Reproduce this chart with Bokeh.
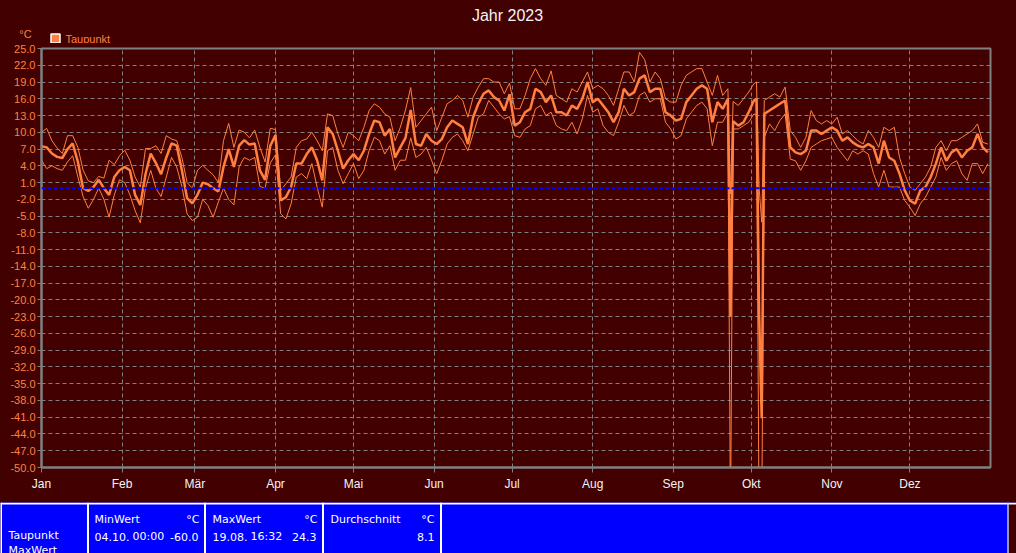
from bokeh.plotting import figure
from bokeh.models import (Range1d, FixedTicker, PrintfTickFormatter, Span, Label, BoxAnnotation)
from bokeh.layouts import column
from bokeh.embed import file_html
from bokeh.resources import INLINE

# ---------------- data ----------------
TITLE = "Jahr 2023"
SERIES = "Taupunkt"
UNIT = "°C"
MONTH_LABELS = ["Jan", "Feb", "Mär", "Apr", "Mai", "Jun", "Jul", "Aug", "Sep", "Okt", "Nov", "Dez"]
MONTH_START_DAYS = [0, 31, 59, 90, 120, 151, 181, 212, 243, 273, 304, 334]
Y_TICKS = list(range(-50, 26, 3))

DAYS = (list(range(0, 265, 2)) + [265] + list(range(266, 275, 2)) + [275, 276, 277]
        + list(range(278, 365, 2)))

DEW_AVG = [
    7.5, 7.3, 6.2, 5.6, 5.4, 7.0, 8.0, 4.7, 0.0, -0.5, 0.2, 1.5, 0.0, -1.2, 2.0, 3.2, 3.8, 3.2, -1.2, -3.0,
    2.5, 6.2, 4.5, 2.5, 5.5, 8.0, 7.6, 3.2, -1.8, -2.7, -1.2, 1.0, 0.7, 0.0, -0.6, 3.8, 7.0, 3.8, 7.6, 8.6,
    7.8, 8.0, 3.2, 1.5, 7.6, 9.5, -2.2, -1.6, 0.2, 4.4, 4.4, 6.1, 7.3, 5.0, 1.4, 10.9, 9.7, 6.7, 3.5, 5.0,
    6.1, 5.0, 6.7, 9.7, 12.1, 11.8, 9.4, 10.6, 5.5, 7.3, 9.0, 14.0, 7.9, 7.6, 9.7, 8.5, 7.9, 8.8, 10.9, 12.1,
    11.5, 10.9, 7.9, 12.7, 15.1, 16.9, 17.5, 16.3, 15.7, 13.9, 16.8, 11.2, 11.8, 13.6, 14.2, 17.8, 17.2, 15.4, 16.6, 13.6,
    13.6, 13.0, 14.8, 14.2, 16.0, 19.0, 15.4, 16.0, 14.8, 13.6, 11.8, 13.6, 17.8, 16.6, 17.2, 19.6, 20.2, 17.2, 17.8, 17.8,
    13.6, 13.0, 12.1, 12.4, 15.4, 16.6, 17.8, 18.4, 17.8, 11.8, 15.4, 14.2, 16.0,
    -23.0,
    12.0, 11.2, 11.8, 13.6, 15.7,
    16.0, -22.4, -41.2,
    13.3, 13.9, 14.5, 15.1, 15.7, 7.3, 6.4, 6.1, 6.7, 10.3, 10.3, 9.7, 10.3, 10.9, 10.3, 8.5, 9.1, 8.2, 7.6, 7.3,
    7.9, 7.3, 4.4, 8.5, 5.5, 4.9, 2.6, -0.4, -2.2, -2.8, -0.4, 0.2, 2.0, 4.4, 7.3, 4.9, 6.4, 7.0, 5.5, 6.7,
    7.3, 9.7, 7.3, 6.4,
]
DEW_MAX = [
    10.0, 10.7, 8.5, 7.2, 6.2, 9.4, 9.4, 7.3, 3.2, 1.3, 1.0, 2.1, 1.8, 5.0, 4.2, 5.8, 6.8, 5.0, 2.0, 0.2,
    7.1, 7.1, 7.6, 6.2, 9.4, 8.8, 8.5, 5.5, 1.0, 0.0, 3.2, 4.1, 3.2, 2.4, 1.0, 8.5, 11.6, 7.3, 10.4, 10.0,
    9.0, 10.4, 7.3, 4.7, 10.7, 10.5, -0.4, 0.8, 2.0, 7.3, 8.5, 8.8, 10.0, 8.5, 6.7, 13.3, 13.0, 9.7, 7.3, 10.0,
    9.4, 8.5, 10.9, 13.9, 15.1, 14.5, 13.3, 12.7, 8.5, 10.9, 14.0, 18.0, 10.9, 12.1, 13.3, 14.5, 10.3, 12.7, 15.1, 15.7,
    16.6, 15.7, 12.7, 16.3, 18.1, 19.6, 19.6, 19.0, 19.0, 16.9, 18.8, 14.2, 14.2, 16.6, 19.6, 21.4, 19.6, 18.4, 21.0, 16.6,
    16.0, 15.4, 17.8, 17.2, 19.0, 20.8, 17.8, 18.4, 17.8, 16.6, 14.8, 17.8, 20.8, 20.8, 19.0, 24.3, 23.0, 19.0, 20.8, 19.6,
    16.0, 15.4, 15.4, 18.4, 20.2, 20.8, 21.4, 21.4, 19.0, 16.6, 20.2, 16.6, 17.8,
    -1.0,
    15.5, 14.8, 16.0, 17.2, 18.7,
    19.0, 0.1, -6.1,
    15.7, 16.3, 16.9, 16.3, 18.1, 10.3, 9.1, 7.3, 9.1, 13.9, 12.1, 11.5, 12.1, 11.5, 12.7, 9.7, 10.3, 9.4, 8.5, 7.9,
    10.3, 9.1, 7.3, 10.9, 10.3, 10.9, 5.5, 2.6, 0.2, -0.4, 0.8, 2.0, 3.8, 7.3, 8.5, 6.7, 8.5, 8.5, 9.1, 9.7,
    10.3, 11.5, 8.2, 7.9,
]
DEW_MIN = [
    5.0, 3.5, 4.0, 3.5, 3.2, 4.7, 5.8, 2.0, -1.5, -3.6, -2.0, 0.0, -2.0, -5.2, -1.2, 1.5, 1.0, -1.2, -4.0, -6.2,
    0.0, 3.2, 0.0, -1.5, 2.0, 5.5, 3.8, 0.3, -4.6, -5.8, -5.2, -2.0, -3.1, -5.2, -2.5, 0.0, -2.0, -3.0, 3.8, 5.5,
    5.0, 5.5, 0.3, 0.0, 4.5, 6.0, -4.6, -5.5, -2.8, 2.0, 2.6, 1.7, 4.4, 0.2, -3.4, 6.7, 7.3, 3.2, 0.8, 2.6,
    4.4, 1.7, 3.2, 6.7, 9.1, 8.5, 6.1, 7.6, 3.2, 5.0, 5.0, 9.0, 5.5, 6.1, 7.3, 5.0, 2.6, 5.0, 7.9, 9.1,
    9.7, 8.5, 6.7, 9.7, 12.7, 13.3, 15.7, 14.5, 13.3, 12.4, 12.8, 9.4, 9.1, 10.6, 11.2, 14.2, 14.8, 13.0, 13.6, 11.2,
    10.6, 10.3, 11.8, 9.7, 12.4, 16.6, 13.6, 14.2, 11.2, 10.0, 9.4, 11.8, 14.8, 13.0, 13.6, 16.6, 17.2, 15.4, 16.0, 16.0,
    11.8, 10.6, 8.8, 9.4, 12.4, 13.6, 14.8, 15.4, 14.2, 7.6, 11.8, 11.8, 13.6,
    -60.0,
    10.6, 10.6, 11.2, 11.8, 13.3,
    13.0, -60.0, -60.0,
    9.1, 11.5, 10.3, 12.1, 13.3, 5.2, 4.9, 3.2, 4.9, 7.3, 7.9, 8.5, 8.8, 9.1, 7.3, 6.1, 4.9, 6.7, 6.1, 6.7,
    6.1, 2.6, 0.2, 3.2, 0.2, 0.2, 0.2, -2.2, -3.4, -4.9, -2.8, -1.6, 0.2, 2.0, 5.5, 3.2, 4.4, 4.9, 2.6, 1.4,
    4.4, 4.4, 2.6, 4.4,
]

STAT_MIN_DATE, STAT_MIN_TIME, STAT_MIN = "04.10.", "00:00", -60.0
STAT_MAX_DATE, STAT_MAX_TIME, STAT_MAX = "19.08.", "16:32", 24.3
STAT_AVG = 8.1

# ---------------- style ----------------
BG = "#420000"
ORANGE = "#ff8040"
GRID = "#808080"
BLUE = "#0000ff"
WHITE = "#ffffff"
FONT = "Liberation Sans"
W = 1016


def no_align(fig):
    if "frame_align" in fig.properties():
        fig.frame_align = False


# ---------------- header (title, unit, legend) ----------------
h = figure(width=W, height=43, x_range=Range1d(0, W), y_range=Range1d(43, 0),
           output_backend="svg", toolbar_location=None, x_axis_location=None, y_axis_location=None,
           min_border=0, min_border_left=0, min_border_right=0, min_border_top=0, min_border_bottom=0,
           background_fill_color=BG, border_fill_color=BG, outline_line_color=None)
h.grid.visible = False
no_align(h)
h.add_layout(Label(x=507, y=15, text=TITLE, text_align="center", text_baseline="middle",
                   text_color="#f4f4f4", text_font=FONT, text_font_size="16px"))
h.add_layout(Label(x=25, y=33, text=UNIT, text_align="center", text_baseline="middle",
                   text_color=ORANGE, text_font=FONT, text_font_size="11px"))
# legend entry: swatch + series name
h.add_layout(BoxAnnotation(left=50.5, right=59.5, top=33.5, bottom=42.5, fill_color=ORANGE,
                           fill_alpha=1, line_color=WHITE, line_width=1.5, line_alpha=1))
h.add_layout(Label(x=65, y=38, text=SERIES, text_align="left", text_baseline="middle",
                   text_color=ORANGE, text_font=FONT, text_font_size="11px"))

# ---------------- chart ----------------
p = figure(width=W, height=459, x_range=Range1d(0, 365), y_range=Range1d(-50, 25),
           output_backend="svg", toolbar_location=None,
           min_border_left=41, min_border_right=26, min_border_top=5, min_border_bottom=35,
           background_fill_color=BG, border_fill_color=BG)
no_align(p)
p.outline_line_color = GRID
p.outline_line_width = 2

p.xaxis.ticker = FixedTicker(ticks=MONTH_START_DAYS)
p.xaxis.major_label_overrides = {d: m for d, m in zip(MONTH_START_DAYS, MONTH_LABELS)}
p.xaxis.major_label_text_color = "#f4f4f4"
p.xaxis.major_label_text_font = FONT
p.xaxis.major_label_text_font_size = "12px"
p.xaxis.major_label_standoff = 4
p.xaxis.major_tick_out = 5
p.xaxis.major_tick_in = 0
p.xaxis.minor_tick_out = 0
p.xaxis.axis_line_color = GRID
p.xaxis.axis_line_width = 2
p.xaxis.major_tick_line_color = GRID

p.yaxis.ticker = FixedTicker(ticks=Y_TICKS)
p.yaxis.formatter = PrintfTickFormatter(format="%.1f")
p.yaxis.major_label_text_color = ORANGE
p.yaxis.major_label_text_font = FONT
p.yaxis.major_label_text_font_size = "11px"
p.yaxis.major_label_standoff = 2
p.yaxis.major_tick_out = 4
p.yaxis.major_tick_in = 0
p.yaxis.minor_tick_out = 0
p.yaxis.axis_line_color = GRID
p.yaxis.axis_line_width = 2
p.yaxis.major_tick_line_color = GRID

for g in (p.xgrid, p.ygrid):
    g.grid_line_color = GRID
    g.grid_line_dash = "4 3"
    g.grid_line_width = 1

p.add_layout(Span(location=0, dimension="width", line_color=BLUE, line_dash="4 2", line_width=2))

p.line(DAYS, DEW_MAX, line_color=ORANGE, line_width=1)
p.line(DAYS, DEW_MIN, line_color=ORANGE, line_width=1)
p.line(DAYS, DEW_AVG, line_color=ORANGE, line_width=2.5)

# ---------------- statistics table ----------------
t = figure(width=W, height=51, x_range=Range1d(0, W), y_range=Range1d(553, 502),
           output_backend="svg", toolbar_location=None, x_axis_location=None, y_axis_location=None,
           min_border=0, min_border_left=0, min_border_right=0, min_border_top=0, min_border_bottom=0,
           background_fill_color=BLUE, border_fill_color=BLUE, outline_line_color=None)
no_align(t)
t.grid.visible = False
t.add_layout(BoxAnnotation(left=1008, fill_color=BG, fill_alpha=1, line_alpha=0))
t.add_layout(Span(location=503, dimension="width", line_color=WHITE, line_width=2))
t.add_layout(Span(location=1007.5, dimension="height", line_color="#c8c8c8", line_width=1.5))
for edge in (0.5, 87.5, 204.5, 322.5, 440.5):
    t.add_layout(Span(location=edge, dimension="height", line_color=WHITE, line_width=2))


def cell(x, y, text, align="left"):
    t.add_layout(Label(x=x, y=y, text=text, text_align=align, text_baseline="middle",
                       text_color=WHITE, text_font="DejaVu Sans", text_font_size="11px"))


cell(8, 535, SERIES)
cell(8, 550, "MaxWert")
cell(94, 519, "MinWert")
cell(199, 519, UNIT, "right")
cell(94, 536, STAT_MIN_DATE)
cell(132, 536, STAT_MIN_TIME)
cell(198, 536, f"{STAT_MIN:.1f}", "right")
cell(212, 519, "MaxWert")
cell(317, 519, UNIT, "right")
cell(212, 536, STAT_MAX_DATE)
cell(250, 536, STAT_MAX_TIME)
cell(316, 536, f"{STAT_MAX:.1f}", "right")
cell(330, 519, "Durchschnitt")
cell(434, 519, UNIT, "right")
cell(434, 536, f"{STAT_AVG:.1f}", "right")

layout = column(h, p, t, spacing=0, styles={"background-color": BG})
open("out.html", "w").write(file_html(layout, INLINE))
